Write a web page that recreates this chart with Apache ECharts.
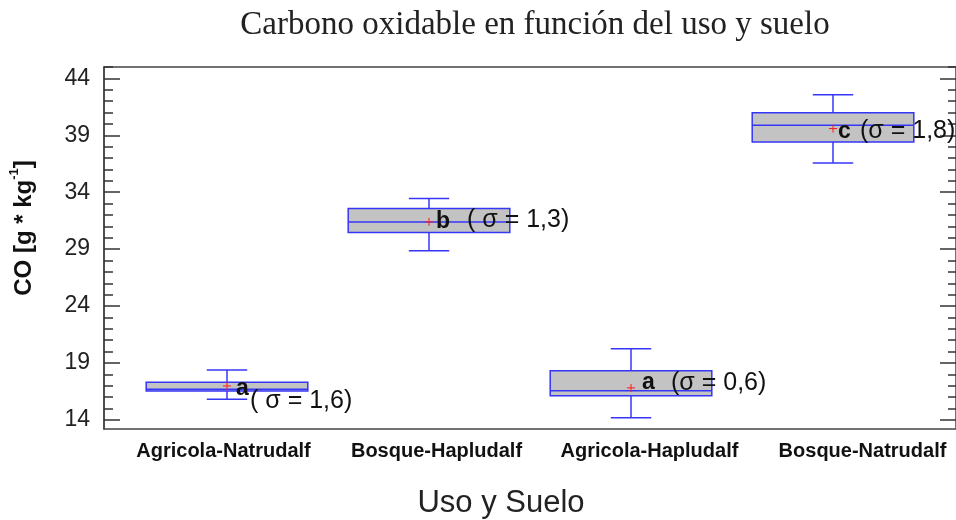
<!DOCTYPE html>
<html>
<head>
<meta charset="utf-8">
<script src="https://cdn.jsdelivr.net/npm/echarts@6/dist/echarts.min.js"></script>
<style>html,body{margin:0;padding:0;background:#fff;}#c{width:956px;height:520px;}</style>
</head>
<body>
<div id="c"></div>
<script>
// ---- data ----
const categories = ['Agricola-Natrudalf', 'Bosque-Hapludalf', 'Agricola-Hapludalf', 'Bosque-Natrudalf'];
const whiskerLow  = [15.82, 28.85, 14.18, 36.57];
const q1Values    = [16.54, 30.46, 16.11, 38.41];
const medians     = [16.70, 31.39, 16.57, 39.88];
const q3Values    = [17.31, 32.57, 18.32, 40.99];
const whiskerHigh = [18.39, 33.45, 20.25, 42.57];
const means       = [16.98, 31.40, 16.81, 39.59];
const groupLetters = ['a', 'b', 'a', 'c'];
const sigmaLabels  = ['( σ = 1,6)', '( σ = 1,3)', '(σ = 0,6)', '(σ = 1,8)'];
const yTickLabels = [14, 19, 24, 29, 34, 39, 44];
const yMinorTicks = [14,15,16,17,18,19,20,21,22,23,24,25,26,27,28,29,30,31,32,33,34,35,36,37,38,39,40,41,42,43,44,45];

// ---- layout/style (not data) ----
const Y_MIN = 13.2, Y_MAX = 45;
const letterOffsets = [[9, 3], [7, 0], [11, -5], [5, 3]];
const sigmaOffsets  = [[23, 15], [38, -2], [40, -5], [27, 3]];
const BLUE = '#3636f8';
const SANS = "'Liberation Sans', Arial, sans-serif";

const boxData = categories.map((c, i) => [i, whiskerLow[i], q1Values[i], medians[i], q3Values[i], whiskerHigh[i], means[i]]);

function renderBox(params, api) {
  const i = api.value(0);
  const band = api.size([1, 0])[0];
  const boxW = band * 0.80;
  const capW = band * 0.20;
  const pLow = api.coord([i, api.value(1)]);
  const pQ1 = api.coord([i, api.value(2)]);
  const pMed = api.coord([i, api.value(3)]);
  const pQ3 = api.coord([i, api.value(4)]);
  const pHigh = api.coord([i, api.value(5)]);
  const pMean = api.coord([i, api.value(6)]);
  const cx = pQ1[0];
  const idx = params.dataIndex;
  const lineStyle = { stroke: BLUE, lineWidth: 1.5, fill: null };
  return {
    type: 'group',
    children: [
      { type: 'line', shape: { x1: cx, y1: pHigh[1], x2: cx, y2: pQ3[1] }, style: lineStyle },
      { type: 'line', shape: { x1: cx, y1: pLow[1], x2: cx, y2: pQ1[1] }, style: lineStyle },
      { type: 'line', shape: { x1: cx - capW / 2, y1: pHigh[1], x2: cx + capW / 2, y2: pHigh[1] }, style: lineStyle },
      { type: 'line', shape: { x1: cx - capW / 2, y1: pLow[1], x2: cx + capW / 2, y2: pLow[1] }, style: lineStyle },
      { type: 'rect', shape: { x: cx - boxW / 2, y: pQ3[1], width: boxW, height: pQ1[1] - pQ3[1] },
        style: { fill: '#c3c3c3', stroke: BLUE, lineWidth: 1.5 } },
      { type: 'line', shape: { x1: cx - boxW / 2, y1: pMed[1], x2: cx + boxW / 2, y2: pMed[1] }, style: lineStyle },
      { type: 'line', shape: { x1: pMean[0] - 4, y1: pMean[1], x2: pMean[0] + 4, y2: pMean[1] }, style: { stroke: '#ff1a1a', lineWidth: 1 } },
      { type: 'line', shape: { x1: pMean[0], y1: pMean[1] - 4, x2: pMean[0], y2: pMean[1] + 4 }, style: { stroke: '#ff1a1a', lineWidth: 1 } },
      { type: 'text', x: pMean[0] + letterOffsets[idx][0], y: pMean[1] + letterOffsets[idx][1],
        style: { text: groupLetters[idx], font: "bold 23px 'Liberation Sans', Arial", fill: '#111', verticalAlign: 'middle', align: 'left' } },
      { type: 'text', x: pMean[0] + sigmaOffsets[idx][0], y: pMean[1] + sigmaOffsets[idx][1],
        style: { text: sigmaLabels[idx], font: "25px 'Liberation Sans', Arial", fill: '#111', verticalAlign: 'middle', align: 'left' } }
    ]
  };
}

const chart = echarts.init(document.getElementById('c'), null, { renderer: 'canvas' });
const yBase = { type: 'value', min: Y_MIN, max: Y_MAX, gridIndex: 0, splitLine: { show: false } };
chart.setOption({
  animation: false,
  backgroundColor: '#fff',
  title: [
    { text: 'Carbono oxidable en función del uso y suelo', left: 530, top: 4, textAlign: 'center',
      textStyle: { fontFamily: "'Liberation Serif', 'Times New Roman', serif", fontSize: 33, fontWeight: 'normal', color: '#222' } },
    { text: 'Uso y Suelo', left: 496, top: 483, textAlign: 'center',
      textStyle: { fontFamily: SANS, fontSize: 31, fontWeight: 'normal', color: '#222' } }
  ],
  grid: [
    { left: 102, right: 0, top: 67, bottom: 91, show: true, borderColor: '#444', borderWidth: 1.5, backgroundColor: '#fff' },
    { left: 126, right: 22, top: 67, bottom: 91 }
  ],
  xAxis: [
    { type: 'category', gridIndex: 0, data: categories, boundaryGap: true,
      axisLine: { show: false }, axisTick: { show: false },
      axisLabel: { interval: 0, margin: 12, padding: [0, 0, 0, 26], fontFamily: SANS, fontSize: 20, fontWeight: 'bold', color: '#111' } },
    { type: 'category', gridIndex: 1, data: categories, boundaryGap: true, show: false }
  ],
  yAxis: [
    Object.assign({}, yBase, {
      position: 'left',
      name: '{b|CO [g * kg}{s|-1}{b|]}', nameLocation: 'middle', nameRotate: 90, nameGap: 68,
      nameTextStyle: { padding: [0, 0, 0, 40],
        rich: { b: { fontFamily: SANS, fontSize: 24, fontWeight: 'bold', color: '#111', lineHeight: 28, verticalAlign: 'bottom' },
                s: { fontFamily: SANS, fontSize: 13, fontWeight: 'bold', color: '#111', lineHeight: 28, verticalAlign: 'top' } } },
      axisLine: { show: true, lineStyle: { color: '#444', width: 1.5 } },
      axisTick: { show: true, inside: true, length: 16, customValues: yTickLabels, lineStyle: { color: '#333', width: 1.5 } },
      axisLabel: { show: true, customValues: yTickLabels, margin: 14, fontFamily: SANS, fontSize: 23, color: '#222' }
    }),
    Object.assign({}, yBase, {
      position: 'left',
      axisLine: { show: false },
      axisTick: { show: true, inside: true, length: 9, customValues: yMinorTicks, lineStyle: { color: '#333', width: 1.5 } },
      axisLabel: { show: false }
    }),
    Object.assign({}, yBase, {
      position: 'right',
      axisLine: { show: false },
      axisTick: { show: true, inside: true, length: 16, customValues: yTickLabels, lineStyle: { color: '#333', width: 1.5 } },
      axisLabel: { show: false }
    }),
    Object.assign({}, yBase, {
      position: 'right',
      axisLine: { show: false },
      axisTick: { show: true, inside: true, length: 8, customValues: yMinorTicks, lineStyle: { color: '#333', width: 1.5 } },
      axisLabel: { show: false }
    }),
    { type: 'value', gridIndex: 1, min: Y_MIN, max: Y_MAX, show: false }
  ],
  series: [
    { type: 'custom', name: 'CO', xAxisIndex: 1, yAxisIndex: 4, coordinateSystem: 'cartesian2d',
      renderItem: renderBox, data: boxData, encode: { x: 0, y: [1, 2, 3, 4, 5, 6] }, clip: false, z: 5 }
  ]
});
</script>
</body>
</html>
